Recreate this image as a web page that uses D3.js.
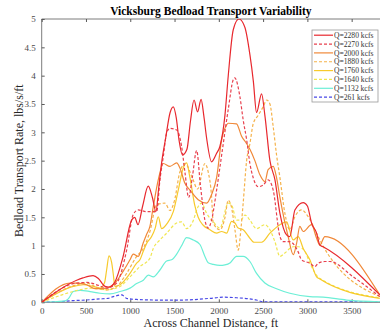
<!DOCTYPE html>
<html>
<head>
<meta charset="utf-8">
<script src="https://cdn.jsdelivr.net/npm/d3@7"></script>
<style>
  body { margin: 0; background: #fff; }
  svg { display: block; font-family: "Liberation Serif", "DejaVu Serif", serif; }
</style>
</head>
<body>
<div id="chart"></div>
<script>
// distance across channel (ft), bedload transport rate (lbs/s/ft)
const q2280 = [[0,0],[395,0.39],[466,0.43],[580,0.47],[640,0.42],[715,0.28],[760,0.27],[827,0.36],[918,0.8],[1015,1.45],[1050,1.5],[1087,1.37],[1140,1.7],[1203,2.05],[1250,1.85],[1290,1.6],[1320,2.0],[1354,2.46],[1400,2.9],[1450,3.35],[1486,3.45],[1520,3.25],[1550,2.87],[1590,2.6],[1640,2.7],[1680,3.2],[1720,3.57],[1760,3.36],[1800,3.58],[1830,3.3],[1862,2.9],[1918,2.48],[1975,2.63],[2012,2.75],[2069,3.3],[2106,3.99],[2163,4.81],[2227,5.0],[2295,4.85],[2351,4.37],[2390,3.9],[2426,3.35],[2483,3.68],[2520,3.3],[2577,2.5],[2634,2.16],[2690,1.57],[2765,1.19],[2802,1.16],[2859,1.63],[2953,1.76],[3000,1.7],[3047,1.4],[3104,1.22],[3141,1.01],[3178,0.98],[3818,0.13]];
const q2270 = [[0,0],[395,0.34],[508,0.35],[640,0.3],[733,0.25],[846,0.34],[959,0.92],[1034,1.55],[1090,1.63],[1185,1.6],[1298,1.6],[1335,2.16],[1373,2.57],[1411,2.99],[1448,3.07],[1524,3.04],[1580,2.75],[1617,2.3],[1660,1.85],[1700,2.2],[1750,2.68],[1790,2.1],[1843,1.45],[1880,1.31],[1918,1.45],[1975,1.98],[2032,2.6],[2106,3.4],[2163,3.93],[2180,3.96],[2238,3.63],[2275,3.22],[2314,2.87],[2351,2.45],[2388,2.2],[2444,2.04],[2501,2.07],[2557,2.16],[2614,1.98],[2690,1.16],[2727,1.07],[2802,1.07],[2896,0.89],[2934,0.75],[3028,0.69],[3085,0.63],[3122,0.69],[3197,0.72],[3254,0.72],[3517,0.45],[3818,0.1]];
const q2000 = [[0,0],[320,0.34],[395,0.34],[508,0.31],[602,0.24],[733,0.25],[827,0.34],[921,0.55],[997,0.75],[1034,0.85],[1090,0.81],[1147,1.05],[1185,1.2],[1222,1.34],[1260,1.69],[1316,2.16],[1373,2.45],[1448,2.4],[1524,2.46],[1561,2.37],[1617,2.1],[1674,1.98],[1767,1.81],[1862,1.75],[1918,1.9],[1975,2.2],[2032,2.87],[2088,3.13],[2106,3.16],[2200,3.15],[2257,2.93],[2314,2.8],[2351,2.7],[2407,2.5],[2464,2.25],[2520,2.13],[2557,2.34],[2614,2.4],[2652,2.2],[2690,1.85],[2740,1.45],[2783,1.16],[2840,0.84],[2878,1.04],[2915,1.34],[2953,1.25],[3047,1.37],[3104,1.13],[3141,1.01],[3197,1.16],[3818,0.13]];
const q1880 = [[0,0],[395,0.31],[508,0.34],[602,0.28],[733,0.22],[846,0.28],[959,0.51],[1072,0.81],[1147,0.95],[1222,1.25],[1298,1.72],[1392,1.75],[1448,1.62],[1500,1.8],[1560,2.3],[1620,2.45],[1700,2.2],[1760,2.0],[1843,2.45],[1880,2.3],[1918,1.87],[1937,1.4],[2012,1.28],[2070,1.5],[2106,1.8],[2140,1.7],[2182,1.28],[2219,0.92],[2250,1.3],[2275,1.75],[2314,2.5],[2351,2.8],[2388,3.15],[2444,3.3],[2501,3.45],[2539,3.57],[2577,3.5],[2614,3.1],[2652,2.6],[2690,2.2],[2746,1.57],[2802,1.28],[2859,1.51],[2934,1.63],[3009,1.51],[3104,1.22],[3160,1.04],[3818,0.1]];
const q1760 = [[0,0],[357,0.28],[470,0.31],[583,0.28],[658,0.25],[710,0.35],[733,0.57],[760,0.82],[790,0.7],[808,0.5],[827,0.28],[884,0.31],[997,0.51],[1072,0.69],[1109,0.75],[1147,0.9],[1185,1.04],[1241,1.16],[1280,1.3],[1316,1.51],[1354,1.3],[1411,1.38],[1486,1.6],[1542,1.98],[1598,2.37],[1636,2.46],[1674,2.2],[1730,1.7],[1767,1.5],[1824,1.36],[1900,1.28],[1975,1.22],[2032,1.25],[2088,1.22],[2144,1.43],[2182,1.4],[2219,1.31],[2275,1.28],[2332,1.17],[2400,1.06],[2483,1.06],[2577,1.22],[2690,1.37],[2765,1.42],[2840,1.1],[2896,1.16],[2953,0.95],[3028,0.75],[3104,0.45],[3141,0.41],[3818,0.07]];
const q1640 = [[0,0],[433,0.22],[546,0.25],[733,0.22],[884,0.28],[997,0.45],[1109,0.63],[1222,0.78],[1260,0.95],[1335,1.1],[1411,1.22],[1524,1.4],[1580,1.42],[1636,1.3],[1700,1.4],[1767,1.69],[1805,1.75],[1862,1.57],[1937,1.42],[2012,1.31],[2106,1.75],[2144,1.72],[2200,1.45],[2250,1.45],[2295,1.54],[2351,1.45],[2426,1.3],[2520,1.37],[2577,1.28],[2633,1.07],[2690,0.81],[2746,0.87],[2840,0.98],[2900,0.98],[2972,0.9],[3028,0.69],[3141,0.42],[3818,0.08]];
const q1132 = [[0,0],[250,0.02],[300,0.06],[357,0.19],[433,0.21],[546,0.19],[658,0.16],[771,0.15],[884,0.19],[997,0.25],[1072,0.33],[1147,0.39],[1204,0.48],[1260,0.45],[1335,0.57],[1411,0.73],[1467,0.75],[1524,0.85],[1580,1.0],[1636,1.14],[1711,1.1],[1787,1.02],[1843,0.81],[1880,0.7],[1937,0.67],[2012,0.65],[2069,0.66],[2130,0.7],[2200,0.81],[2275,0.81],[2351,0.72],[2426,0.51],[2520,0.34],[2652,0.24],[2802,0.16],[3028,0.1],[3178,0.09],[3442,0.04],[3818,0.01]];
const q261 = [[0,0],[200,0.01],[357,0.03],[500,0.04],[658,0.06],[750,0.07],[808,0.1],[903,0.13],[959,0.07],[1072,0.05],[1300,0.04],[1600,0.04],[1900,0.07],[2050,0.09],[2200,0.08],[2426,0.04],[2500,0.01],[3000,0.01],[3818,0.01]];

const labels = ['Q=2280 kcfs','Q=2270 kcfs','Q=2000 kcfs','Q=1880 kcfs','Q=1760 kcfs','Q=1640 kcfs','Q=1132 kcfs','Q=261 kcfs'];
const seriesData = [q2280, q2270, q2000, q1880, q1760, q1640, q1132, q261];
const colors = ['#e8282e','#e8404e','#f08838','#f5b24a','#f7ca2c','#f0e650','#6cefd6','#4848e6'];
const dashed = [false, true, false, true, false, true, false, true];
const xTicks = [0, 500, 1000, 1500, 2000, 2500, 3000, 3500];
const yTicks = [0, 0.5, 1, 1.5, 2, 2.5, 3, 3.5, 4, 4.5, 5];

const W = 380, H = 331;
const m = { t: 19, r: 0, b: 28.7, l: 41.7 };
const innerW = W - m.l - m.r;
const innerH = H - m.t - m.b;

const svg = d3.select('#chart').append('svg').attr('width', W).attr('height', H);
const g = svg.append('g').attr('transform', `translate(${m.l},${m.t})`);

const x = d3.scaleLinear().domain([0, 3820]).range([0, innerW]);
const y = d3.scaleLinear().domain([0, 5]).range([innerH, 0]);

svg.append('defs').append('clipPath').attr('id', 'clip')
  .append('rect').attr('width', innerW).attr('height', innerH);

// axes, ticks pointing inward like matlab
const axisColor = '#5a5a5a';
const styleAxis = sel => {
  sel.select('.domain').remove();
  sel.selectAll('line').attr('stroke', axisColor);
  sel.selectAll('text').attr('fill', '#4a4a4a').style('font-size', '9px')
    .style('font-family', '"Liberation Serif", serif');
};

g.append('g').attr('transform', `translate(0,${innerH})`)
  .call(d3.axisBottom(x).tickValues(xTicks).tickSizeInner(-3).tickSizeOuter(0).tickPadding(5).tickFormat(d3.format('d')))
  .call(styleAxis);
g.append('g')
  .call(d3.axisTop(x).tickValues(xTicks).tickSizeInner(-3).tickSizeOuter(0).tickFormat(''))
  .call(styleAxis);
g.append('g')
  .call(d3.axisLeft(y).tickValues(yTicks).tickSizeInner(-3).tickSizeOuter(0).tickPadding(6).tickFormat(d3.format('')))
  .call(styleAxis);

g.append('path')
  .attr('d', `M0,${innerH}V0H${innerW}`)
  .attr('fill', 'none').attr('stroke', axisColor).attr('stroke-width', 0.8);
g.append('line').attr('x1', 0).attr('x2', innerW).attr('y1', innerH).attr('y2', innerH)
  .attr('stroke', axisColor).attr('stroke-width', 0.8);

const line = d3.line().x(d => x(d[0])).y(d => y(d[1])).curve(d3.curveMonotoneX);

const plot = g.append('g').attr('clip-path', 'url(#clip)');
// draw in reverse so the high-flow lines sit on top
seriesData.map((d, i) => i).reverse().forEach(i => {
  plot.append('path')
    .datum(seriesData[i])
    .attr('d', line)
    .attr('fill', 'none')
    .attr('stroke', colors[i])
    .attr('stroke-width', 1.2)
    .attr('stroke-dasharray', dashed[i] ? '3,2' : null);
});

// title & axis labels
svg.append('text').attr('x', m.l + innerW / 2).attr('y', 15)
  .attr('text-anchor', 'middle').style('font-size', '11.5px').style('font-weight', 'bold')
  .text('Vicksburg Bedload Transport Variability');
svg.append('text').attr('x', m.l + innerW / 2).attr('y', 327)
  .attr('text-anchor', 'middle').style('font-size', '12px').attr('fill', '#262626')
  .text('Across Channel Distance, ft');
svg.append('text')
  .attr('transform', `translate(23,${m.t + innerH / 2}) rotate(-90)`)
  .attr('text-anchor', 'middle').style('font-size', '12px').attr('fill', '#262626')
  .text('Bedload Transport Rate, lbs/s/ft');

// legend
const lg = svg.append('g').attr('transform', 'translate(312,30)');
lg.append('rect').attr('width', 66).attr('height', 72)
  .attr('fill', '#fff').attr('stroke', '#9a9a9a').attr('stroke-width', 0.8);
labels.forEach((lab, i) => {
  const yy = 5.2 + i * 8.85;
  lg.append('line').attr('x1', 2).attr('x2', 21).attr('y1', yy).attr('y2', yy)
    .attr('stroke', colors[i]).attr('stroke-width', 1.2)
    .attr('stroke-dasharray', dashed[i] ? '3,2' : null);
  lg.append('text').attr('x', 22).attr('y', yy + 2.6)
    .style('font-size', '7.6px').attr('fill', '#333').text(lab);
});
</script>
</body>
</html>
